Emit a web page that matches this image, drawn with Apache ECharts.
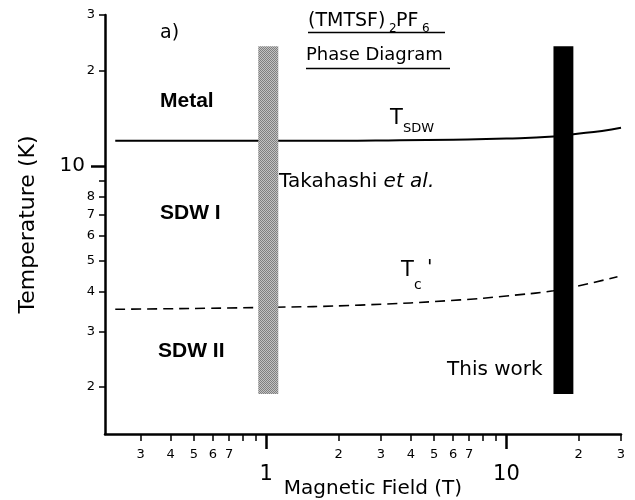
<!DOCTYPE html>
<html>
<head>
<meta charset="utf-8">
<script src="https://cdn.jsdelivr.net/npm/echarts@6/dist/echarts.min.js"></script>
<style>
  html, body { margin: 0; padding: 0; background: #fff; }
  #chart { width: 635px; height: 500px; }
</style>
</head>
<body>
<div id="chart"></div>
<script>
// Axis ranges (log scales)
const fieldRange = [0.213, 30];
const tempRange = [1.42, 30];

// Tick positions and labelled ticks
const fieldMinorTicks = [0.3, 0.4, 0.5, 0.6, 0.7, 0.8, 0.9, 2, 3, 4, 5, 6, 7, 8, 9, 20, 30];
const fieldMinorLabels = [0.3, 0.4, 0.5, 0.6, 0.7, 2, 3, 4, 5, 6, 7, 20, 30];
const fieldMajorTicks = [1, 10];
const tempMinorTicks = [2, 3, 4, 5, 6, 7, 8, 9, 20, 30];
const tempMinorLabels = [2, 3, 4, 5, 6, 7, 8, 20, 30];
const tempMajorTicks = [10];

// T_SDW phase boundary
const tsdwField = [0.235, 1, 2, 3.6, 6, 10, 15.7, 19, 25, 30];
const tsdwTemp  = [12.0, 12.0, 12.0, 12.05, 12.1, 12.2, 12.38, 12.6, 12.9, 13.2];

// T_c' phase boundary
const tcField = [0.235, 1, 2.46, 6.43, 10, 15.7, 19.8, 29];
const tcTemp  = [3.52, 3.57, 3.63, 3.77, 3.88, 4.03, 4.17, 4.46];

// Measurement field windows
const takahashiField = [0.926, 1.122];
const thisWorkField = [15.7, 19.0];
const bandTemp = [1.90, 23.9];

const FONT = "'DejaVu Sans'";

function leadingDigit(v) {
  const p = Math.pow(10, Math.floor(Math.log10(v) + 1e-9));
  return String(Math.round(v / p));
}

// Dithered gray fill for the Takahashi window
const dither = document.createElement('canvas');
dither.width = 2; dither.height = 2;
(function () {
  const c = dither.getContext('2d');
  c.fillStyle = '#c2c2c2'; c.fillRect(0, 0, 2, 2);
  c.fillStyle = '#7f7f7f'; c.fillRect(0, 0, 1, 1); c.fillRect(1, 1, 1, 1);
})();

function bandSeries(fieldPair, fill) {
  return {
    type: 'custom',
    z: 5,
    silent: true,
    xAxisIndex: 0,
    yAxisIndex: 0,
    encode: { x: [0, 1], y: [2, 3] },
    data: [[fieldPair[0], fieldPair[1], bandTemp[0], bandTemp[1]]],
    renderItem: function (params, api) {
      const p0 = api.coord([api.value(0), api.value(3)]);
      const p1 = api.coord([api.value(1), api.value(2)]);
      return {
        type: 'rect',
        shape: { x: p0[0], y: p0[1], width: p1[0] - p0[0], height: p1[1] - p0[1] },
        style: { fill: fill }
      };
    }
  };
}

const axisCommon = {
  type: 'log',
  logBase: 10,
  splitLine: { show: false },
  minorTick: { show: false },
  minorSplitLine: { show: false }
};

const chart = echarts.init(document.getElementById('chart'), null, { renderer: 'canvas' });

chart.setOption({
  animation: false,
  backgroundColor: '#fff',
  grid: { left: 105, right: 14, top: 15, bottom: 66, containLabel: false, outerBoundsMode: 'none' },
  xAxis: [
    Object.assign({}, axisCommon, {
      min: fieldRange[0], max: fieldRange[1], position: 'bottom',
      name: 'Magnetic Field (T)', nameLocation: 'middle', nameGap: 45,
      nameTextStyle: { fontFamily: FONT, fontSize: 20, color: '#000', padding: [0, 0, 0, 20] },
      axisLine: { show: true, lineStyle: { color: '#000', width: 2.5 } },
      axisTick: { show: true, inside: false, length: 7, customValues: fieldMinorTicks,
                  lineStyle: { color: '#000', width: 1.5 } },
      axisLabel: { show: true, customValues: fieldMinorLabels, margin: 14,
                   fontFamily: FONT, fontSize: 13, color: '#000', formatter: leadingDigit }
    }),
    Object.assign({}, axisCommon, {
      min: fieldRange[0], max: fieldRange[1], position: 'bottom',
      axisLine: { show: false },
      axisTick: { show: true, inside: false, length: 15, customValues: fieldMajorTicks,
                  lineStyle: { color: '#000', width: 2.5 } },
      axisLabel: { show: true, customValues: fieldMajorTicks, margin: 30,
                   fontFamily: FONT, fontSize: 21, color: '#000', formatter: v => String(Math.round(v)) }
    })
  ],
  yAxis: [
    Object.assign({}, axisCommon, {
      min: tempRange[0], max: tempRange[1], position: 'left',
      name: 'Temperature (K)', nameLocation: 'middle', nameGap: 66, nameRotate: 90,
      nameTextStyle: { fontFamily: FONT, fontSize: 22, color: '#000' },
      axisLine: { show: true, lineStyle: { color: '#000', width: 2.5 } },
      axisTick: { show: true, inside: false, length: 6, customValues: tempMinorTicks,
                  lineStyle: { color: '#000', width: 1.5 } },
      axisLabel: { show: true, customValues: tempMinorLabels, margin: 10,
                   fontFamily: FONT, fontSize: 13, color: '#000', formatter: leadingDigit }
    }),
    Object.assign({}, axisCommon, {
      min: tempRange[0], max: tempRange[1], position: 'left',
      axisLine: { show: false },
      axisTick: { show: true, inside: false, length: 14, customValues: tempMajorTicks,
                  lineStyle: { color: '#000', width: 2.5 } },
      axisLabel: { show: true, customValues: tempMajorTicks, margin: 20,
                   fontFamily: FONT, fontSize: 20, color: '#000', formatter: v => String(Math.round(v)) }
    })
  ],
  series: [
    {
      name: 'T_SDW',
      type: 'line',
      xAxisIndex: 0, yAxisIndex: 0,
      smooth: true,
      symbol: 'none',
      z: 2,
      lineStyle: { color: '#000', width: 2 },
      data: tsdwField.map((f, i) => [f, tsdwTemp[i]])
    },
    {
      name: "T_c'",
      type: 'line',
      xAxisIndex: 0, yAxisIndex: 0,
      smooth: true,
      symbol: 'none',
      z: 2,
      lineStyle: { color: '#000', width: 1.6, type: [10, 6] },
      data: tcField.map((f, i) => [f, tcTemp[i]])
    },
    bandSeries(takahashiField, { image: dither, repeat: 'repeat' }),
    bandSeries(thisWorkField, '#000')
  ],
  graphic: [
    { type: 'text', x: 160, y: 33, style: { text: 'a)', fontFamily: FONT, fontSize: 19, fill: '#000', verticalAlign: 'middle' } },
    // Title with underline and subscripts
    { type: 'text', x: 308, y: 21, style: { text: '(TMTSF)', fontFamily: FONT, fontSize: 19, fill: '#000', verticalAlign: 'middle' } },
    { type: 'text', x: 389, y: 29, style: { text: '2', fontFamily: FONT, fontSize: 12, fill: '#000', verticalAlign: 'middle' } },
    { type: 'text', x: 396, y: 21, style: { text: 'PF', fontFamily: FONT, fontSize: 19, fill: '#000', verticalAlign: 'middle' } },
    { type: 'text', x: 422, y: 29, style: { text: '6', fontFamily: FONT, fontSize: 12, fill: '#000', verticalAlign: 'middle' } },
    { type: 'line', shape: { x1: 308, y1: 32.5, x2: 445, y2: 32.5 }, style: { stroke: '#000', lineWidth: 1.5 } },
    { type: 'text', x: 306, y: 55, style: { text: 'Phase Diagram', fontFamily: FONT, fontSize: 18, fill: '#000', verticalAlign: 'middle' } },
    { type: 'line', shape: { x1: 306, y1: 68.5, x2: 450, y2: 68.5 }, style: { stroke: '#000', lineWidth: 1.5 } },
    // Region names
    { type: 'text', x: 160, y: 101, style: { text: 'Metal', fontFamily: "'Liberation Sans'", fontWeight: 'bold', fontSize: 21, fill: '#000', verticalAlign: 'middle' } },
    { type: 'text', x: 160, y: 213, style: { text: 'SDW I', fontFamily: "'Liberation Sans'", fontWeight: 'bold', fontSize: 21, fill: '#000', verticalAlign: 'middle' } },
    { type: 'text', x: 158, y: 351, style: { text: 'SDW II', fontFamily: "'Liberation Sans'", fontWeight: 'bold', fontSize: 21, fill: '#000', verticalAlign: 'middle' } },
    // Curve labels
    { type: 'text', x: 390, y: 119, style: { text: 'T', fontFamily: FONT, fontSize: 21, fill: '#000', verticalAlign: 'middle' } },
    { type: 'text', x: 403, y: 129, style: { text: 'SDW', fontFamily: FONT, fontSize: 13, fill: '#000', verticalAlign: 'middle' } },
    { type: 'text', x: 401, y: 271, style: { text: 'T', fontFamily: FONT, fontSize: 21, fill: '#000', verticalAlign: 'middle' } },
    { type: 'text', x: 414, y: 285, style: { text: 'c', fontFamily: FONT, fontSize: 14, fill: '#000', verticalAlign: 'middle' } },
    { type: 'text', x: 427, y: 268, style: { text: "'", fontFamily: FONT, fontSize: 20, fill: '#000', verticalAlign: 'middle' } },
    // Measurement annotations
    { type: 'text', x: 279, y: 182, style: {
        text: '{n|Takahashi }{i|et al.}', verticalAlign: 'middle',
        rich: {
          n: { fontFamily: FONT, fontSize: 20, fill: '#000', color: '#000' },
          i: { fontFamily: FONT, fontSize: 20, fontStyle: 'italic', fill: '#000', color: '#000' }
        } } },
    { type: 'text', x: 447, y: 370, style: { text: 'This work', fontFamily: FONT, fontSize: 20, fill: '#000', verticalAlign: 'middle' } }
  ]
});
</script>
</body>
</html>
